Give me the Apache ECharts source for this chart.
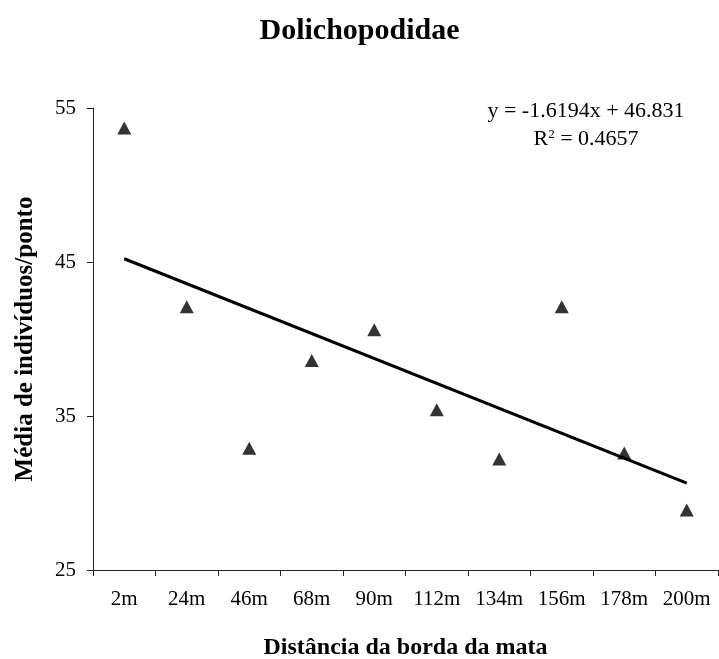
<!DOCTYPE html>
<html>
<head>
<meta charset="utf-8">
<script src="https://cdn.jsdelivr.net/npm/echarts@6/dist/echarts.min.js"></script>
<style>
html,body{margin:0;padding:0;background:#fff;}
#chart{width:719px;height:659px;}
</style>
</head>
<body>
<div id="chart"></div>
<script>
var categories = ['2m','24m','46m','68m','90m','112m','134m','156m','178m','200m'];
var meanValues = [53.7, 42.1, 32.9, 38.6, 40.6, 35.4, 32.2, 42.1, 32.6, 28.9];
var trendCategories = ['2m','200m'];
var trendValues = [45.21, 30.64];
var yTicks = [25, 35, 45, 55];
var titleText = 'Dolichopodidae';
var xTitle = 'Distância da borda da mata';
var yTitle = 'Média de indivíduos/ponto';
var eqLine1 = 'y = -1.6194x + 46.831';
var eqLine2 = 'R{sup|2} = 0.4657';

var FONT = 'Liberation Serif';
var chart = echarts.init(document.getElementById('chart'));
chart.setOption({
  animation: false,
  backgroundColor: '#ffffff',
  title: [{
    text: titleText, left: 'center', top: 11,
    textStyle: {fontFamily: FONT, fontWeight: 'bold', fontSize: 30, color: '#000'}
  }],
  graphic: [{
    type: 'text', x: 586, y: 100,
    style: {text: eqLine1, fontFamily: FONT, fontSize: 22, fill: '#000', align: 'center', verticalAlign: 'top'}
  }, {
    type: 'text', x: 586, y: 128,
    style: {
      text: eqLine2, fontFamily: FONT, fontSize: 22, fill: '#000', align: 'center', verticalAlign: 'top',
      rich: {sup: {fontFamily: FONT, fontSize: 13, verticalAlign: 'top', padding: [0,0,9,0]}}
    }
  }],
  grid: {left: 93, right: 1, top: 108, bottom: 89, containLabel: false, outerBoundsMode: 'none'},
  xAxis: {
    type: 'category', data: categories, boundaryGap: true,
    name: xTitle, nameLocation: 'middle', nameGap: 66,
    nameTextStyle: {fontFamily: FONT, fontWeight: 'bold', fontSize: 24, color: '#000'},
    axisLine: {lineStyle: {color: '#222', width: 1}},
    axisTick: {show: true, length: 6, alignWithLabel: false, lineStyle: {color: '#222'}},
    axisLabel: {fontFamily: FONT, fontSize: 21, color: '#000', margin: 19, interval: 0},
    splitLine: {show: false}
  },
  yAxis: {
    type: 'value', min: yTicks[0], max: yTicks[yTicks.length-1], interval: 10,
    name: yTitle, nameLocation: 'middle', nameGap: 55, nameRotate: 90,
    nameTextStyle: {fontFamily: FONT, fontWeight: 'bold', fontSize: 25, color: '#000'},
    axisLine: {show: true, lineStyle: {color: '#222', width: 1}},
    axisTick: {show: true, length: 6, lineStyle: {color: '#222'}},
    axisLabel: {fontFamily: FONT, fontSize: 21, color: '#000', margin: 17},
    splitLine: {show: false}
  },
  series: [{
    type: 'scatter',
    data: meanValues,
    symbol: 'triangle', symbolSize: [14, 13],
    itemStyle: {color: '#000'},
    z: 3
  }, {
    type: 'line',
    data: [[trendCategories[0], trendValues[0]], [trendCategories[1], trendValues[1]]],
    symbol: 'none',
    lineStyle: {color: '#000', width: 3},
    z: 2
  }]
});
</script>
</body>
</html>
